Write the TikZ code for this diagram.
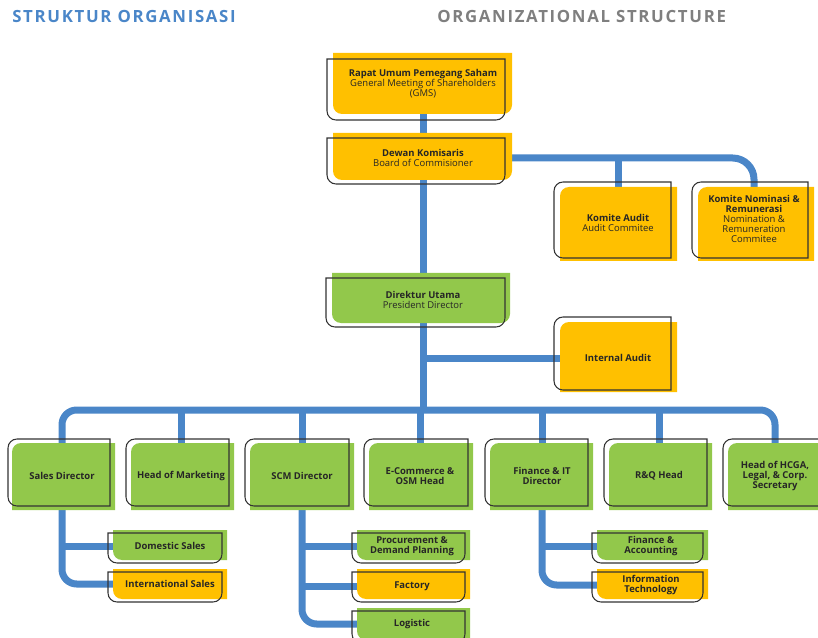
\documentclass[tikz,border=0pt]{standalone}
\usepackage{fontspec}
\setmainfont{Open Sans}
\newfontfamily\titlefont[LetterSpace=10]{Open Sans}
\usetikzlibrary{backgrounds}
\definecolor{lineblue}{HTML}{4A86C8}
\definecolor{boxyellow}{HTML}{FFC000}
\definecolor{boxgreen}{HTML}{92C84B}
\definecolor{titleblue}{HTML}{4A86C8}
\definecolor{titlegray}{HTML}{7F7F7F}
\definecolor{outlc}{HTML}{333333}
\newcommand\rpath[8]{(#1,#2+#5) .. controls (#1,#2+0.45*#5) and (#1+0.45*#5,#2) .. (#1+#5,#2) -- (#3-#6,#2) .. controls (#3-0.45*#6,#2) and (#3,#2+0.45*#6) .. (#3,#2+#6) -- (#3,#4-#7) .. controls (#3,#4-0.45*#7) and (#3-0.45*#7,#4) .. (#3-#7,#4) -- (#1+#8,#4) .. controls (#1+0.45*#8,#4) and (#1,#4-0.45*#8) .. (#1,#4-#8) -- cycle}
\tikzset{
  conn/.style={draw=lineblue, line width=5.25pt, rounded corners=11pt},
  outl/.style={draw=outlc, line width=0.8pt},
  lbl/.style={align=center, font=\fontsize{7.1}{7.5}\selectfont, text=black!85, inner sep=0pt},
  blbl/.style={lbl, font=\bfseries\fontsize{7.1}{7.5}\selectfont},
  ttl/.style={anchor=west, font=\titlefont\bfseries\fontsize{12.6}{14}\selectfont, inner sep=0pt},
}
\begin{document}
\begin{tikzpicture}[x=0.75pt, y=-0.75pt]
\useasboundingbox (0,0) rectangle (818,638);
% titles
\node[ttl, text=titleblue] (t1) at (12,16) {STRUKTUR ORGANISASI};
\node[ttl, text=titlegray] (t2) at (437,16) {ORGANIZATIONAL STRUCTURE};
% GMS
\fill[boxyellow] \rpath{333}{53}{512}{114}{0}{0}{9}{9};
\draw[outl] \rpath{327}{59}{505}{120}{0}{0}{9}{9};
\node[lbl] (gms) at (423,83.5) {\textbf{Rapat Umum Pemegang Saham}\\General Meeting of Shareholders\\(GMS)};
% Board
\fill[boxyellow] \rpath{333}{133}{512}{180}{0}{0}{9}{9};
\draw[outl] \rpath{327}{138}{505}{184}{0}{0}{9}{9};
\node[lbl] (board) at (423,158) {\textbf{Dewan Komisaris}\\Board of Commisioner};
% Komite Audit
\fill[boxyellow] \rpath{560}{187}{677}{261}{9}{0}{0}{0};
\draw[outl] \rpath{554}{182}{671}{258}{9}{0}{0}{9};
\node[lbl] (komA) at (618,223) {\textbf{Komite Audit}\\Audit Commitee};
% Komite Nominasi
\fill[boxyellow] \rpath{698}{187}{814}{261}{9}{0}{0}{0};
\draw[outl] \rpath{692}{182}{808}{258}{9}{0}{0}{9};
\node[lbl] (komN) at (754,219) {\textbf{Komite Nominasi \&}\\\textbf{Remunerasi}\\Nomination \&\\Remuneration\\Commitee};
% Direktur Utama
\fill[boxgreen] \rpath{332}{273}{510}{323}{0}{0}{9}{9};
\draw[outl] \rpath{326}{278}{505}{327}{0}{0}{9}{9};
\node[lbl] (dir) at (423,300) {\textbf{Direktur Utama}\\President Director};
% Internal Audit
\fill[boxyellow] \rpath{560}{322}{677}{392}{9}{0}{0}{0};
\draw[outl] \rpath{554}{317}{671}{390}{9}{0}{0}{9};
\node[blbl] (ia) at (618,358) {Internal Audit};
% Row
\fill[boxgreen] \rpath{12}{443}{115}{510}{9}{0}{0}{0};
\draw[outl] \rpath{8}{439}{110}{506}{9}{0}{0}{9};
\node[blbl] (sales) at (62,476) {Sales Director};
\fill[boxgreen] \rpath{131}{443}{234}{510}{9}{0}{0}{0};
\draw[outl] \rpath{126}{439}{229}{506}{9}{0}{0}{9};
\node[blbl] (mkt) at (181,476) {Head of Marketing};
\fill[boxgreen] \rpath{250}{443}{354}{510}{9}{0}{0}{0};
\draw[outl] \rpath{245}{439}{349}{506}{9}{0}{0}{9};
\node[blbl] (scm) at (302,476) {SCM Director};
\fill[boxgreen] \rpath{369}{443}{473}{510}{9}{0}{0}{0};
\draw[outl] \rpath{364}{439}{468}{506}{9}{0}{0}{9};
\node[blbl] (ecom) at (420,476) {E-Commerce \&\\OSM Head};
\fill[boxgreen] \rpath{490}{443}{593}{510}{9}{0}{0}{0};
\draw[outl] \rpath{485}{439}{588}{506}{9}{0}{0}{9};
\node[blbl] (fin) at (542,476) {Finance \& IT\\Director};
\fill[boxgreen] \rpath{609}{443}{712}{510}{9}{0}{0}{0};
\draw[outl] \rpath{604}{439}{707}{506}{9}{0}{0}{9};
\node[blbl] (rq) at (659,476) {R\&Q Head};
\fill[boxgreen] \rpath{728}{443}{830}{510}{9}{0}{0}{0};
\draw[outl] \rpath{723}{439}{826}{506}{9}{0}{0}{9};
\node[blbl] (hcga) at (775,476) {Head of HCGA,\\Legal, \& Corp.\\Secretary};
% Sub boxes
\fill[boxgreen] \rpath{113}{530}{227}{560}{0}{0}{0}{9};
\draw[outl] \rpath{108}{533}{222}{563}{0}{0}{9}{9};
\node[blbl] (dom) at (170,546) {Domestic Sales};
\fill[boxyellow] \rpath{113}{569}{227}{599}{0}{0}{0}{9};
\draw[outl] \rpath{108}{572}{222}{602}{0}{0}{9}{9};
\node[blbl] (intl) at (170,584) {International Sales};
\fill[boxgreen] \rpath{357}{530}{470}{560}{0}{0}{0}{9};
\draw[outl] \rpath{352}{533}{465}{563}{0}{0}{9}{9};
\node[blbl] (proc) at (412,546) {Procurement \&\\Demand Planning};
\fill[boxyellow] \rpath{357}{569}{470}{599}{0}{0}{0}{9};
\draw[outl] \rpath{352}{572}{465}{602}{0}{0}{9}{9};
\node[blbl] (fact) at (412,586) {Factory};
\fill[boxgreen] \rpath{357}{608}{470}{640}{0}{0}{0}{9};
\draw[outl] \rpath{352}{611}{465}{643}{0}{0}{9}{9};
\node[blbl] (log) at (412,624) {Logistic};
\fill[boxgreen] \rpath{597}{530}{708}{560}{0}{0}{0}{9};
\draw[outl] \rpath{592}{533}{703}{563}{0}{0}{9}{9};
\node[blbl] (fa) at (651,546) {Finance \&\\Accounting};
\fill[boxyellow] \rpath{597}{569}{708}{599}{0}{0}{0}{9};
\draw[outl] \rpath{592}{572}{703}{602}{0}{0}{9}{9};
\node[blbl] (it) at (651,585) {Information\\Technology};
% connectors
\coordinate (bar) at (423,410);
\begin{scope}[on background layer]
\draw[conn] (gms) -- (board) -- (dir) -- (bar);
\draw[conn, rounded corners=16pt] (board) -| (komN);
\draw[conn] (board -| komA) -- (komA);
\draw[conn] (dir |- ia) -- (ia);
\draw[conn] (sales) |- (bar) -| (hcga);
\foreach \n in {mkt,scm,ecom,fin,rq} \draw[conn] (bar -| \n) -- (\n);
\draw[conn] (sales) |- (intl);
\draw[conn] (sales |- dom) -- (dom);
\draw[conn] (scm) |- (log);
\draw[conn] (scm |- proc) -- (proc);
\draw[conn] (scm |- fact) -- (fact);
\draw[conn] (fin) |- (it);
\draw[conn] (fin |- fa) -- (fa);
\end{scope}
\end{tikzpicture}
\end{document}
